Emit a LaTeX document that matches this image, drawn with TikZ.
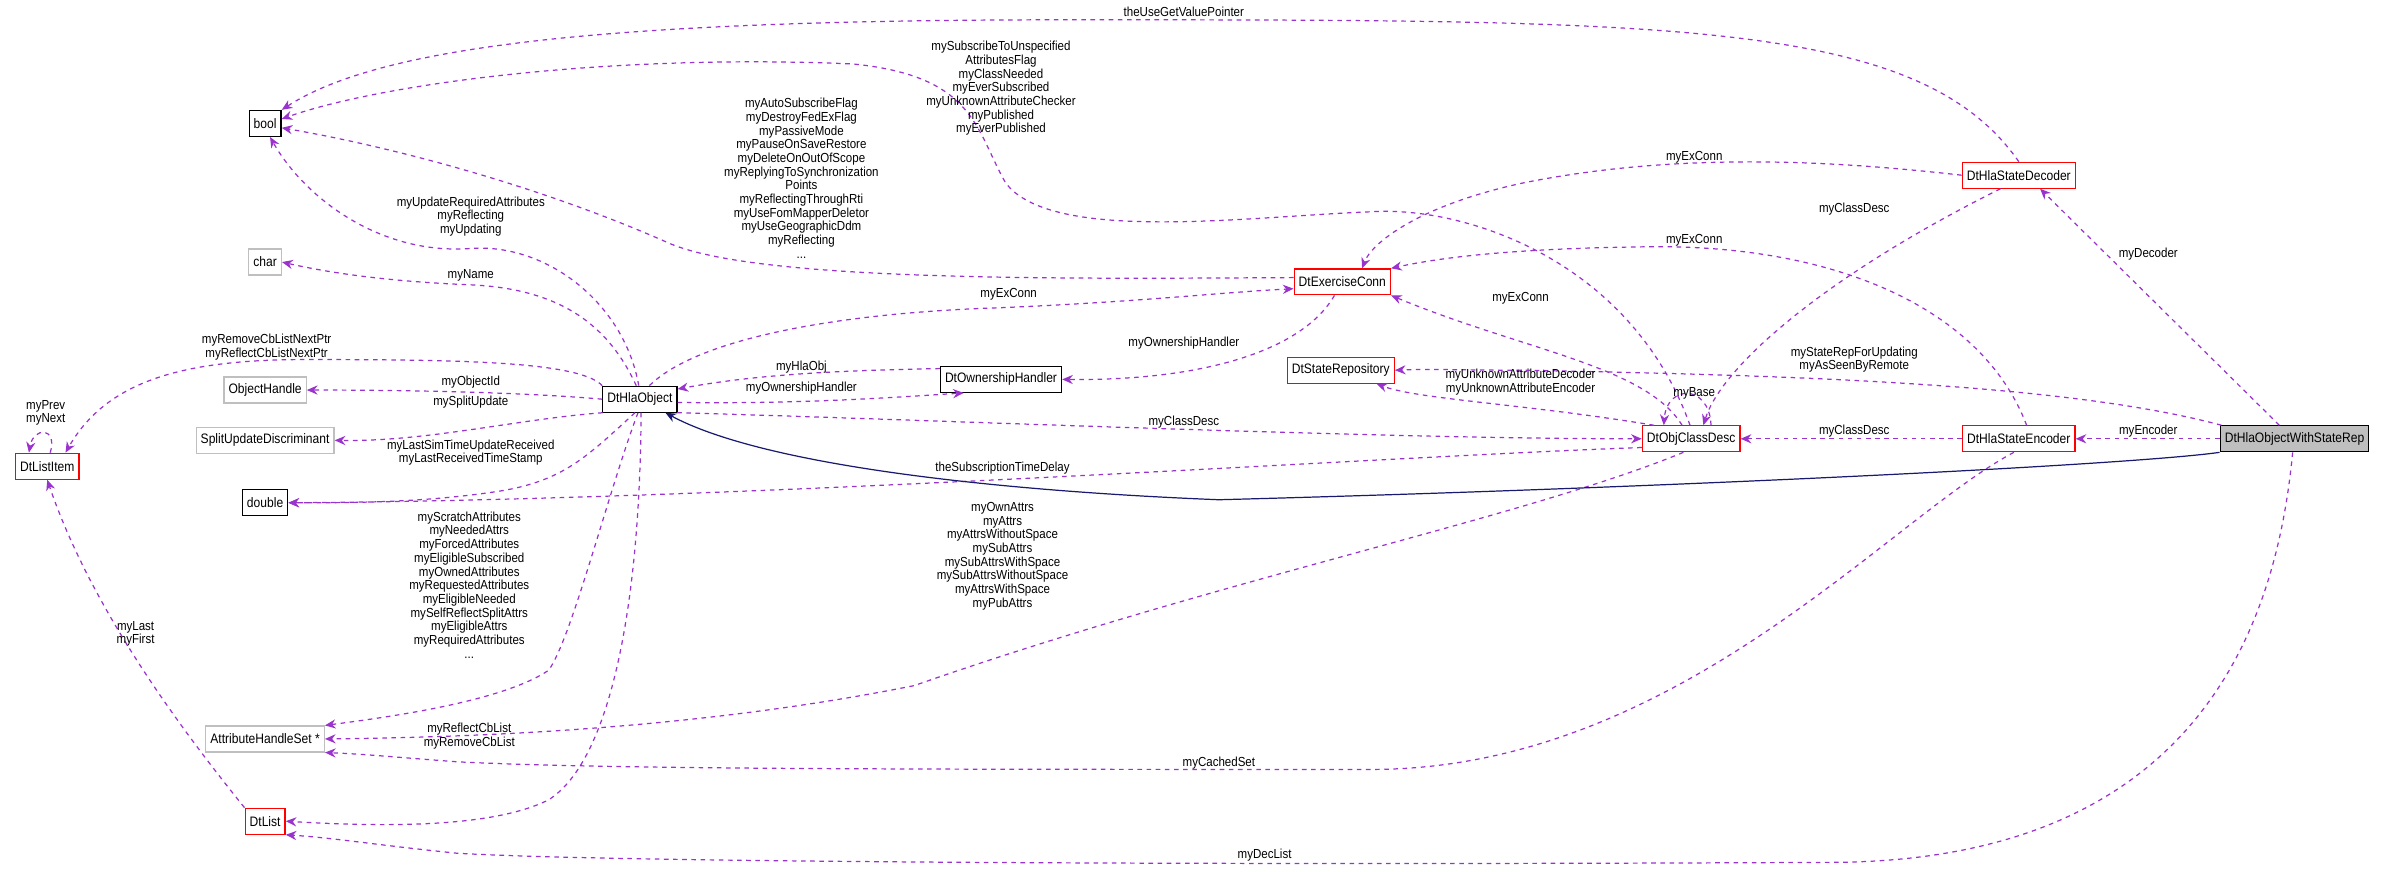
\documentclass[tikz,border=0pt]{standalone}
\usepackage{fontspec}
\setmainfont[FakeStretch=0.88]{Liberation Sans}
\usetikzlibrary{arrows.meta}
\definecolor{relcol}{HTML}{9A32CD}
\definecolor{basecol}{HTML}{191970}
\definecolor{grayline}{HTML}{BFBFBF}
\begin{document}
\begin{tikzpicture}[x=1pt, y=-1pt,
    cls/.style={draw=black, thick, fill=white, inner xsep=3pt, minimum height=17pt, font=\fontsize{9}{9}\selectfont},
    redcls/.style={cls, draw=red},
    graycls/.style={cls, draw=grayline},
    lbl/.style={align=center, inner sep=0, font=\fontsize{8.6}{9}\selectfont},
    rel/.style={draw=relcol, dashed, thick, -{Stealth[length=7pt, width=6pt]}},
    base/.style={draw=basecol, thick, -{Stealth[length=7pt, width=6pt]}}]
                \useasboundingbox (0,0) rectangle (1568,572);
                \node (bool) [cls] at (174,81) {bool};
                \node (chr) [graycls] at (174,172) {char};
                \node (objh) [graycls] at (174,256) {ObjectHandle};
                \node (sud) [graycls] at (174,289) {SplitUpdateDiscriminant};
                \node (dbl) [cls] at (174,330) {double};
                \node (ahs) [graycls] at (174,485) {AttributeHandleSet *};
                \node (dl) [redcls] at (174,539) {DtList};
                \node (li) [redcls] at (31,306) {DtListItem};
                \node (hla) [cls] at (420,262) {DtHlaObject};
                \node (own) [cls] at (657,249) {DtOwnershipHandler};
                \node (exc) [redcls] at (881,185) {DtExerciseConn};
                \node (sr) [redcls] at (880,243) {DtStateRepository};
                \node (ocd) [redcls] at (1110,288) {DtObjClassDesc};
                \node (dec) [redcls] at (1325,115) {DtHlaStateDecoder};
                \node (enc) [redcls] at (1325,288) {DtHlaStateEncoder};
                \node (wsr) [cls, fill=grayline] at (1506,288) {DtHlaObjectWithStateRep};

                % edges to bool
                \draw [rel] (dec.north) .. controls (1260,13) and (1100,13) .. (700,13) .. controls (400,13) and (250,30) .. (bool.north east);
                \draw [rel] (ocd.95) .. controls (1070,170) and (960,135) .. (900,139) .. controls (820,142) and (690,160) .. (660,120) .. controls (640,85) and (640,50) .. (560,42) .. controls (400,35) and (250,55) .. (bool.15);
                \draw [rel] (exc.175) .. controls (700,183) and (500,185) .. (440,160) .. controls (350,120) and (250,95) .. (bool.345);
                \draw [rel] (hla.95) .. controls (410,200) and (360,160) .. (310,163) .. controls (250,168) and (200,130) .. (bool.290);
                \draw [rel] (hla.105) .. controls (400,215) and (370,190) .. (310,187) .. controls (260,185) and (220,180) .. (chr.east);
                \draw [rel] (hla.north west) .. controls (380,237) and (300,236) .. (200,236) .. controls (120,236) and (70,250) .. ([xshift=12pt]li.north);
                \draw [rel] ([xshift=2pt]li.north) .. controls (38,280) and (22,280) .. ([xshift=-12pt]li.north);
                \draw [rel] (hla.180) .. controls (350,258) and (280,256) .. (objh.east);
                \draw [rel] (hla.200) .. controls (340,275) and (280,290) .. (sud.east);
                \draw [rel] (hla.250) .. controls (385,300) and (370,315) .. (330,322) .. controls (280,330) and (230,330) .. (dbl.east);
                \draw [rel] (hla.262) .. controls (400,320) and (375,420) .. (360,440) .. controls (330,460) and (260,470) .. (ahs.north east);
                \draw [rel] (hla.275) .. controls (420,400) and (400,500) .. (360,525) .. controls (320,545) and (240,542) .. (dl.east);
                \draw [rel] (dl.north west) .. controls (120,480) and (60,400) .. (li.south);
                % members of DtObjClassDesc and others
                \draw [rel] (ocd.190) .. controls (900,300) and (500,328) .. (dbl.east);
                \draw [rel] (ocd.240) .. controls (1000,340) and (800,380) .. (600,450) .. controls (450,480) and (300,484) .. (ahs.east);
                \draw [rel] (enc.250) .. controls (1240,340) and (1100,505) .. (900,505) .. controls (600,505) and (400,505) .. (300,500) .. controls (260,497) and (240,495) .. (ahs.south east);
                \draw [rel] (wsr.262) .. controls (1495,400) and (1450,566) .. (1200,566) .. controls (800,568) and (400,566) .. (300,560) .. controls (250,555) and (220,550) .. (dl.south east);
                \draw [base] (wsr.south west) .. controls (1400,305) and (1100,320) .. (800,328) .. controls (650,322) and (500,305) .. ([xshift=-8pt]hla.south east);
                \draw [rel] (hla.55) .. controls (460,220) and (560,205) .. (656,202) .. controls (750,198) and (800,192) .. (exc.188);
                \draw [rel] (dec.west) .. controls (1200,105) and (1100,100) .. (1000,120) .. controls (930,135) and (900,160) .. ([xshift=13pt]exc.north);
                \draw [rel] (enc.60) .. controls (1300,200) and (1200,160) .. (1080,162) .. controls (1000,163) and (950,168) .. (exc.north east);
                \draw [rel] ([xshift=-6pt]ocd.north) .. controls (1080,240) and (1000,230) .. (exc.south east);
                \draw [rel] ([xshift=-12pt]dec.south) .. controls (1200,180) and (1130,240) .. ([xshift=8pt]ocd.north);
                \draw [rel] ([xshift=13pt]ocd.north) .. controls (1122,252) and (1094,252) .. ([xshift=-18pt]ocd.north);
                \draw [rel] (exc.240) .. controls (855,230) and (790,250) .. (own.east);
                \draw [rel] (own.170) .. controls (560,243) and (500,245) .. (hla.15);
                \draw [rel] (hla.355) .. controls (520,265) and (570,262) .. (own.200);
                \draw [rel] (hla.340) .. controls (600,275) and (900,288) .. (ocd.west);
                \draw [rel] (enc.west) -- (ocd.east);
                \draw [rel] (wsr.west) -- (enc.east);
                \draw [rel] ([xshift=-10pt]wsr.north) -- ([xshift=14pt]dec.south);
                \draw [rel] ([xshift=-48pt]wsr.north) .. controls (1350,250) and (1150,246) .. (1000,243) .. controls (960,243) and (940,242) .. (sr.east);
                \draw [rel] (ocd.160) .. controls (1000,265) and (930,262) .. ([xshift=-12pt]sr.south east);

                % labels
                \node (l1) [lbl] at (777,8) {theUseGetValuePointer};
                \node (l2) [lbl] at (657,58) {mySubscribeToUnspecified\\AttributesFlag\\myClassNeeded\\myEverSubscribed\\myUnknownAttributeChecker\\myPublished\\myEverPublished};
                \node (l3) [lbl] at (526,117) {myAutoSubscribeFlag\\myDestroyFedExFlag\\myPassiveMode\\myPauseOnSaveRestore\\myDeleteOnOutOfScope\\myReplyingToSynchronization\\Points\\myReflectingThroughRti\\myUseFomMapperDeletor\\myUseGeographicDdm\\myReflecting\\...};
                \node (l4) [lbl] at (309,142) {myUpdateRequiredAttributes\\myReflecting\\myUpdating};
                \node (l5) [lbl] at (309,181) {myName};
                \node (l6) [lbl] at (175,228) {myRemoveCbListNextPtr\\myReflectCbListNextPtr};
                \node (l7) [lbl] at (30,271) {myPrev\\myNext};
                \node (l8) [lbl] at (309,251) {myObjectId};
                \node (l9) [lbl] at (309,264) {mySplitUpdate};
                \node (l10) [lbl] at (309,297) {myLastSimTimeUpdateReceived\\myLastReceivedTimeStamp};
                \node (l11) [lbl] at (308,384) {myScratchAttributes\\myNeededAttrs\\myForcedAttributes\\myEligibleSubscribed\\myOwnedAttributes\\myRequestedAttributes\\myEligibleNeeded\\mySelfReflectSplitAttrs\\myEligibleAttrs\\myRequiredAttributes\\...};
                \node (l12) [lbl] at (308,483) {myReflectCbList\\myRemoveCbList};
                \node (l13) [lbl] at (89,416) {myLast\\myFirst};
                \node (l14) [lbl] at (658,307) {theSubscriptionTimeDelay};
                \node (l15) [lbl] at (658,365) {myOwnAttrs\\myAttrs\\myAttrsWithoutSpace\\mySubAttrs\\mySubAttrsWithSpace\\mySubAttrsWithoutSpace\\myAttrsWithSpace\\myPubAttrs};
                \node (l16) [lbl] at (800,501) {myCachedSet};
                \node (l17) [lbl] at (830,561) {myDecList};
                \node (l18) [lbl] at (662,193) {myExConn};
                \node (l19) [lbl] at (1112,103) {myExConn};
                \node (l20) [lbl] at (1112,158) {myExConn};
                \node (l21) [lbl] at (998,196) {myExConn};
                \node (l22) [lbl] at (1217,137) {myClassDesc};
                \node (l23) [lbl] at (1410,167) {myDecoder};
                \node (l24) [lbl] at (777,225) {myOwnershipHandler};
                \node (l25) [lbl] at (526,241) {myHlaObj};
                \node (l26) [lbl] at (526,255) {myOwnershipHandler};
                \node (l27) [lbl] at (1217,236) {myStateRepForUpdating\\myAsSeenByRemote};
                \node (l28) [lbl] at (998,251) {myUnknownAttributeDecoder\\myUnknownAttributeEncoder};
                \node (l29) [lbl] at (1112,258) {myBase};
                \node (l30) [lbl] at (777,277) {myClassDesc};
                \node (l31) [lbl] at (1217,283) {myClassDesc};
                \node (l32) [lbl] at (1410,283) {myEncoder};
            \end{tikzpicture}
\end{document}
